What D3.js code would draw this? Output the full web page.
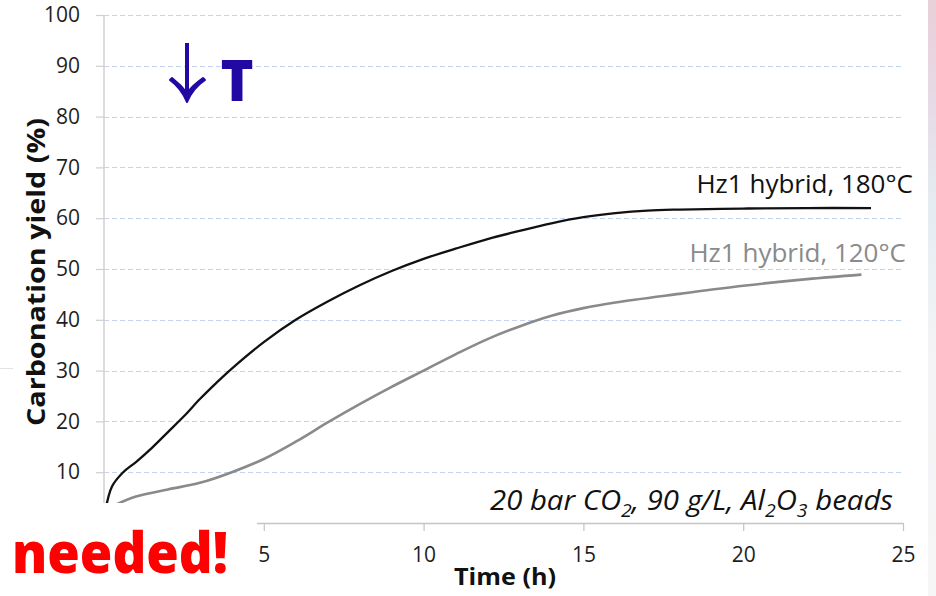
<!DOCTYPE html>
<html>
<head>
<meta charset="utf-8">
<script src="https://cdn.jsdelivr.net/npm/d3@7"></script>
<style>
  html, body { margin: 0; padding: 0; background: #ffffff; }
  svg { display: block; font-family: "Open Sans", "Noto Sans", sans-serif; }
</style>
</head>
<body>
<svg id="chart" width="936" height="596"></svg>
<script>
// Carbonation yield over time, Hz1 hybrid at two temperatures
const time180  = [0.03, 0.25, 0.6, 1.0, 1.5, 2.0, 2.5, 3.0, 3.5, 4.0, 5.0, 6.0, 7.0, 8.0, 9.0, 10.0, 11.0, 12.0, 13.0, 14.0, 15.0, 16.0, 17.0, 18.0, 20.0, 22.0, 24.0];
const yield180 = [2.0, 7.2, 10.0, 12.0, 14.8, 17.9, 21.0, 24.4, 27.5, 30.4, 35.6, 40.0, 43.6, 46.8, 49.6, 52.0, 54.0, 55.9, 57.5, 59.0, 60.2, 61.0, 61.5, 61.7, 61.9, 62.0, 62.0];

const time120  = [0.3, 1.0, 2.0, 3.0, 4.0, 5.0, 6.0, 7.0, 8.0, 9.0, 10.0, 11.0, 12.0, 13.0, 14.0, 15.0, 16.0, 18.0, 20.0, 22.0, 23.7];
const yield120 = [3.4, 5.2, 6.6, 7.9, 10.0, 12.6, 16.0, 19.8, 23.4, 26.8, 30.0, 33.2, 36.2, 38.7, 40.8, 42.3, 43.4, 45.1, 46.7, 48.0, 48.9];

const yTicks = [10, 20, 30, 40, 50, 60, 70, 80, 90, 100];
const xTicks = [5, 10, 15, 20, 25];

const seriesNames = ["Hz1 hybrid, 180°C", "Hz1 hybrid, 120°C"];

const svg = d3.select("#chart");

const x = d3.scaleLinear().domain([0, 25]).range([104, 903]);
const y = d3.scaleLinear().domain([0, 100]).range([523, 15]);

// faint slide decoration at the right edge
const defs = svg.append("defs");
const grad = defs.append("linearGradient").attr("id", "edge").attr("x1", 0).attr("y1", 0).attr("x2", 0).attr("y2", 1);
grad.append("stop").attr("offset", "0").attr("stop-color", "#e9cfd8");
grad.append("stop").attr("offset", "0.18").attr("stop-color", "#e6dbe6");
grad.append("stop").attr("offset", "0.35").attr("stop-color", "#e4edf2");
grad.append("stop").attr("offset", "0.58").attr("stop-color", "#f3f3f5");
grad.append("stop").attr("offset", "1").attr("stop-color", "#f6f6f7");
svg.append("rect").attr("x", 928).attr("y", 0).attr("width", 8).attr("height", 596).attr("fill", "url(#edge)");
svg.append("line").attr("x1", 0).attr("x2", 13).attr("y1", 368.5).attr("y2", 368.5)
  .attr("stroke", "#e2e2e2").attr("stroke-width", 1);

// horizontal dashed gridlines
svg.append("g").selectAll("line").data(yTicks).join("line")
  .attr("x1", x(0)).attr("x2", x(25))
  .attr("y1", d => Math.round(y(d)) + 0.5).attr("y2", d => Math.round(y(d)) + 0.5)
  .attr("stroke", "#c4d3ef").attr("stroke-width", 1.2).attr("stroke-dasharray", "5,3");

// y axis
const yAxis = svg.append("g").attr("transform", `translate(${x(0)},0)`)
  .call(d3.axisLeft(y).tickValues(yTicks).tickSize(8).tickPadding(16).tickFormat(d3.format("d")));
yAxis.select(".domain").remove();
yAxis.selectAll(".tick line").attr("stroke", "#cfcfcf").attr("stroke-width", 1.2);
yAxis.selectAll(".tick text").attr("fill", "#1e1e1e").style("font-size", "21px").style("font-family", "'Open Sans', sans-serif");
svg.append("line").attr("x1", x(0)).attr("x2", x(0)).attr("y1", y(100)).attr("y2", y(0))
  .attr("stroke", "#d0d0d0").attr("stroke-width", 1.5);

// x axis
const xAxis = svg.append("g").attr("transform", `translate(0,${y(0)})`)
  .call(d3.axisBottom(x).tickValues(xTicks).tickSize(8).tickPadding(16).tickFormat(d3.format("d")));
xAxis.select(".domain").attr("stroke", "#c4c4c4").attr("stroke-width", 1.3).attr("d", `M${x(0)},0.5H${x(25)}`);
xAxis.selectAll(".tick line").attr("stroke", "#c4c4c4").attr("stroke-width", 1.2);
xAxis.selectAll(".tick text").attr("fill", "#1e1e1e").style("font-size", "21px").style("font-family", "'Open Sans', sans-serif");

// curves
const line = d3.line().curve(d3.curveCatmullRom.alpha(0.5)).x(d => x(d[0])).y(d => y(d[1]));
const pts180 = time180.map((t, i) => [t, yield180[i]]);
const pts120 = time120.map((t, i) => [t, yield120[i]]);

svg.append("path").datum(pts120).attr("d", line)
  .attr("fill", "none").attr("stroke", "#8a8a8a").attr("stroke-width", 2.6).attr("stroke-linejoin", "round");
svg.append("path").datum(pts180).attr("d", line)
  .attr("fill", "none").attr("stroke", "#111111").attr("stroke-width", 2.3).attr("stroke-linejoin", "round");

// series labels
svg.append("text").attr("x", 913).attr("y", 193).attr("text-anchor", "end")
  .attr("fill", "#111111").style("font-size", "26px").text(seriesNames[0]);
svg.append("text").attr("x", 906).attr("y", 262).attr("text-anchor", "end")
  .attr("fill", "#8a8a8a").style("font-size", "26px").text(seriesNames[1]);

// conditions note
const note = svg.append("text").attr("x", 490).attr("y", 510)
  .attr("textLength", 403).attr("lengthAdjust", "spacingAndGlyphs")
  .attr("fill", "#111111").style("font-size", "27px").style("font-style", "italic");
note.append("tspan").text("20 bar CO");
note.append("tspan").attr("dy", 7).style("font-size", "18px").text("2");
note.append("tspan").attr("dy", -7).text(", 90 g/L, Al");
note.append("tspan").attr("dy", 7).style("font-size", "18px").text("2");
note.append("tspan").attr("dy", -7).text("O");
note.append("tspan").attr("dy", 7).style("font-size", "18px").text("3");
note.append("tspan").attr("dy", -7).text(" beads");

// axis titles
svg.append("text").attr("transform", "translate(45,272) rotate(-90)").attr("text-anchor", "middle")
  .attr("textLength", 308).attr("lengthAdjust", "spacingAndGlyphs")
  .attr("fill", "#111111").style("font-size", "25px").style("font-weight", "700").text("Carbonation yield (%)");
svg.append("text").attr("x", 505).attr("y", 585).attr("text-anchor", "middle")
  .attr("textLength", 102).attr("lengthAdjust", "spacingAndGlyphs")
  .attr("fill", "#111111").style("font-size", "23px").style("font-weight", "700").text("Time (h)");

// temperature arrow
const blue = "#2209a3";
svg.append("line").attr("x1", 187).attr("x2", 187).attr("y1", 43).attr("y2", 98)
  .attr("stroke", blue).attr("stroke-width", 4);
svg.append("path").attr("d", "M170,80 Q181,88 187,102 Q193,88 205,80 L203,78 Q193,85 187,93 Q181,85 172,78 Z")
  .attr("fill", blue).attr("stroke", blue).attr("stroke-width", 2).attr("stroke-linejoin", "round");
svg.append("text").attr("x", 237).attr("y", 101).attr("text-anchor", "middle")
  .attr("fill", blue).style("font-size", "56px").style("font-weight", "800").text("T");

// banner box over the lower-left corner
svg.append("rect").attr("x", 0).attr("y", 503).attr("width", 257).attr("height", 93).attr("fill", "#ffffff");
svg.append("text").attr("x", 12).attr("y", 573).attr("fill", "#ff0000")
  .attr("textLength", 216).attr("lengthAdjust", "spacingAndGlyphs")
  .style("font-size", "56px").style("font-weight", "800").text("needed!");
</script>
</body>
</html>
